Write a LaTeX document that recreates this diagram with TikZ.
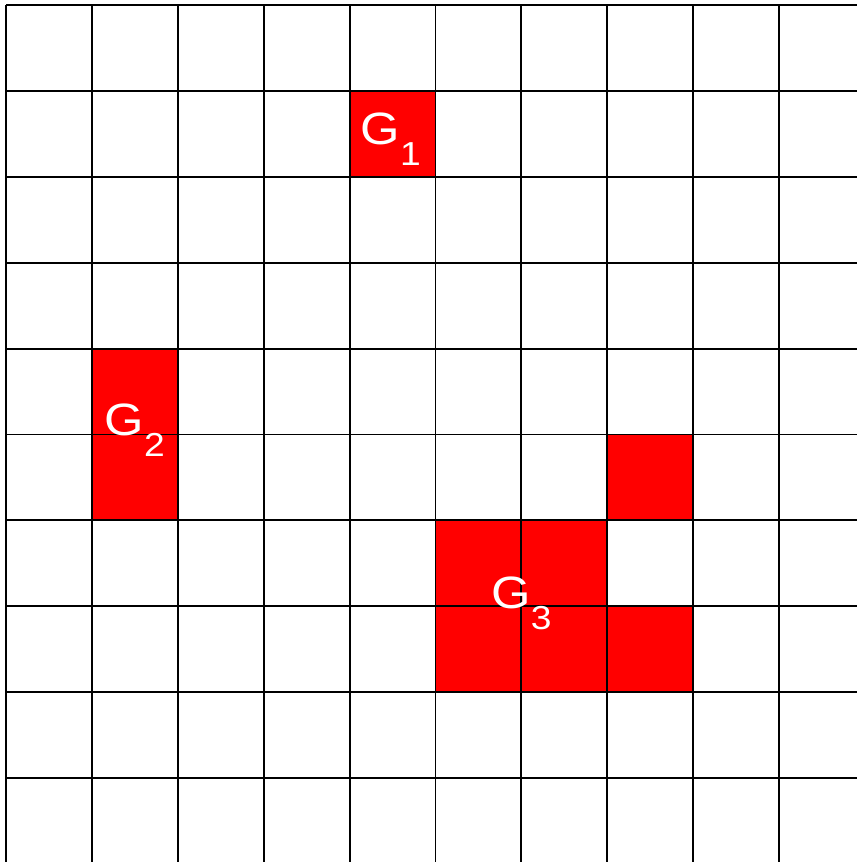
\documentclass[tikz,border=0pt]{standalone}
\usepackage{fontspec}
\setmainfont{Liberation Sans}
\usepackage{xcolor}
\definecolor{cellred}{RGB}{255, 0, 0}

% Beschriftung G mit tiefgestelltem Index (leicht in die Breite gezogen)
\newcommand{\gindex}[1]{\scalebox{1.12}[1]{G\raisebox{-7pt}{\fontsize{11}{11}\selectfont #1}}}

\begin{document}
\begin{tikzpicture}
    % Parameter: Anzahl der Zellen
    \def\n{10}

    % Sichtbarer Ausschnitt (rechts und unten angeschnitten)
    \clip (-0.070, 0.058) rectangle (9.907, -9.977);
    \fill[white] (-0.070, 0.058) rectangle (9.907, -9.977);

    % ==========================================
    % ROTE ZELLEN
    % ==========================================
    % Gruppe G1
    \fill[cellred] (4,-1) rectangle (5,-2);

    % Gruppe G2
    \fill[cellred] (1,-4) rectangle (2,-6);

    % Gruppe G3
    \fill[cellred] (5,-6) rectangle (7,-8);
    \fill[cellred] (7,-5) rectangle (8,-6);
    \fill[cellred] (7,-7) rectangle (8,-8);

    % ==========================================
    % GITTER
    % ==========================================
    \draw[black, line width=0.65pt, step=1] (0,0) grid (\n,-\n);

    % ==========================================
    % BESCHRIFTUNGEN
    % ==========================================
    \node[white, inner sep=0pt, font=\fontsize{15}{15}\selectfont] (g1) at (4.48, -1.56) {\gindex{1}};
    \node[white, inner sep=0pt, font=\fontsize{15}{15}\selectfont] (g2) at (1.50, -4.95) {\gindex{2}};
    \node[white, inner sep=0pt, font=\fontsize{15}{15}\selectfont] (g3) at (6.00, -6.97) {\gindex{3}};

\end{tikzpicture}
\end{document}
